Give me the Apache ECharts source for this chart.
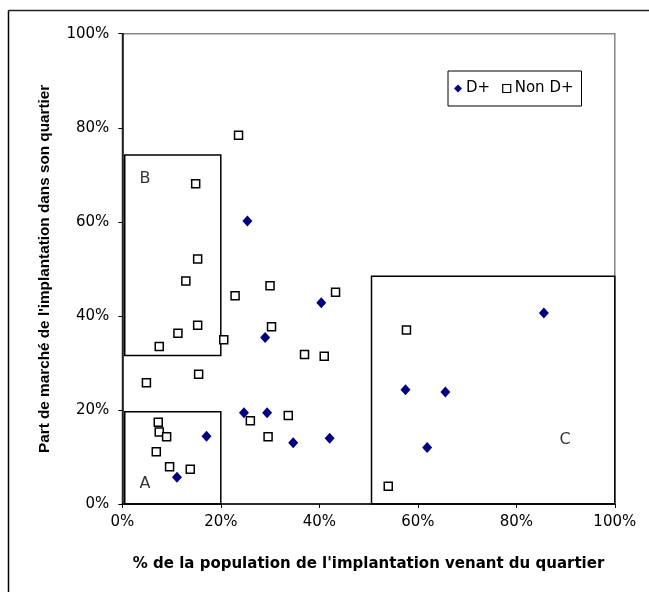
<!DOCTYPE html>
<html>
<head>
<meta charset="utf-8">
<script src="https://cdn.jsdelivr.net/npm/echarts@6/dist/echarts.min.js"></script>
<style>
html,body{margin:0;padding:0;background:#fff;}
#c{width:649px;height:592px;}
</style>
</head>
<body>
<div id="c"></div>
<script>
// D+ points [x %, y %]
var dPlus = [
  [11.1, 5.7], [17.1, 14.4], [24.7, 19.4], [29.4, 19.4], [34.7, 13.0],
  [42.1, 14.0], [29.0, 35.4], [40.4, 42.8], [25.4, 60.2], [85.6, 40.6],
  [57.5, 24.3], [65.6, 23.8], [61.9, 12.0]
];
// Non D+ points [x %, y %]
var nonDPlus = [
  [23.6, 78.4], [14.9, 68.1], [15.3, 52.1], [12.9, 47.4], [22.9, 44.3],
  [30.0, 46.4], [43.3, 45.0], [30.3, 37.7], [15.3, 38.0], [11.3, 36.3],
  [20.6, 34.9], [7.5, 33.5], [37.0, 31.8], [41.0, 31.4], [4.9, 25.8],
  [15.5, 27.6], [7.3, 17.4], [7.5, 15.3], [9.0, 14.3], [6.9, 11.1],
  [9.6, 7.9], [13.8, 7.4], [26.0, 17.7], [33.7, 18.8], [29.6, 14.3],
  [57.7, 37.0], [54.0, 3.8]
];
// Zones [name, xMin, yMin, xMax, yMax]
var zones = [
  ['A', 0.5, 0, 20, 19.6],
  ['B', 0.5, 31.6, 20, 74.2],
  ['C', 50.6, 0, 100, 48.4]
];
// Zone label positions [name, x, y]
var zoneLabels = [
  ['A', 4.6, 4.3],
  ['B', 4.6, 69.1],
  ['C', 89.9, 13.6]
];
var xTicks = [0, 20, 40, 60, 80, 100];
var yTicks = [0, 20, 40, 60, 80, 100];

var fontH = 'DejaVu Sans, Liberation Sans, Arial, sans-serif';
var fontV = 'Liberation Sans, Arial, sans-serif';
var chart = echarts.init(document.getElementById('c'), null, {renderer: 'canvas'});
chart.setOption({
  animation: false,
  backgroundColor: '#fff',
  graphic: [
    {type: 'line', shape: {x1: 8.5, y1: 10.5, x2: 649, y2: 10.5}, style: {stroke: '#222', lineWidth: 1.5}},
    {type: 'line', shape: {x1: 8.5, y1: 10.5, x2: 8.5, y2: 592}, style: {stroke: '#000', lineWidth: 1.5}}
  ],
  grid: {
    left: 122.3, right: 34.2, top: 33.7, bottom: 88,
    show: true, borderColor: '#888', borderWidth: 1.5, backgroundColor: '#fff'
  },
  legend: {
    data: [
      {name: 'D+', icon: 'diamond'},
      {name: 'Non D+', icon: 'rect', itemStyle: {borderWidth: 1.2}}
    ],
    left: 448, top: 71,
    padding: [10, 8, 10, 6],
    borderColor: '#000', borderWidth: 1,
    itemGap: 12, itemWidth: 8, itemHeight: 8,
    textStyle: {fontFamily: fontH, fontSize: 15, color: '#000', padding: [0, 0, 0, -1]}
  },
  xAxis: {
    type: 'value', min: 0, max: 100, interval: 20,
    name: "% de la population de l'implantation venant du quartier",
    nameLocation: 'middle', nameGap: 53,
    nameTextStyle: {fontFamily: fontH, fontSize: 15, fontWeight: 'bold', color: '#000'},
    axisLine: {show: true, onZero: false, lineStyle: {color: '#000', width: 1.5}},
    axisTick: {show: true, length: 4, lineStyle: {color: '#000'}},
    axisLabel: {fontFamily: fontH, fontSize: 15, color: '#000', margin: 11,
      formatter: function (v) { return xTicks.indexOf(v) >= 0 ? v + '%' : ''; }},
    splitLine: {show: false}
  },
  yAxis: {
    type: 'value', min: 0, max: 100, interval: 20,
    name: "Part de marché de l'implantation dans son quartier",
    nameLocation: 'middle', nameGap: 70, nameRotate: 90,
    nameTextStyle: {fontFamily: fontV, fontSize: 15.3, fontWeight: 'bold', color: '#000'},
    axisLine: {show: true, onZero: false, lineStyle: {color: '#000', width: 1.5}},
    axisTick: {show: true, length: 4, lineStyle: {color: '#000'}},
    axisLabel: {fontFamily: fontH, fontSize: 15, color: '#000', margin: 13,
      formatter: function (v) { return yTicks.indexOf(v) >= 0 ? v + '%' : ''; }},
    splitLine: {show: false}
  },
  series: [
    {
      name: 'zones', type: 'scatter', data: zoneLabels.map(function (z) { return {name: z[0], value: [z[1], z[2]]}; }),
      symbolSize: 0, silent: true,
      label: {show: true, position: 'inside', formatter: '{b}', fontFamily: fontH, fontSize: 16, color: '#000'},
      markArea: {
        silent: true,
        itemStyle: {color: 'rgba(0,0,0,0)', borderColor: '#000', borderWidth: 1.5},
        label: {show: false},
        data: zones.map(function (z) { return [{coord: [z[1], z[2]]}, {coord: [z[3], z[4]]}]; })
      },
      z: 1
    },
    {
      name: 'Non D+', type: 'scatter', data: nonDPlus,
      symbol: 'rect', symbolSize: 8,
      itemStyle: {color: '#fff', borderColor: '#000', borderWidth: 1.5, opacity: 1},
      z: 3
    },
    {
      name: 'D+', type: 'scatter', data: dPlus,
      symbol: 'diamond', symbolSize: [10, 11],
      itemStyle: {color: '#000080', opacity: 1},
      z: 4
    }
  ]
});
</script>
</body>
</html>
